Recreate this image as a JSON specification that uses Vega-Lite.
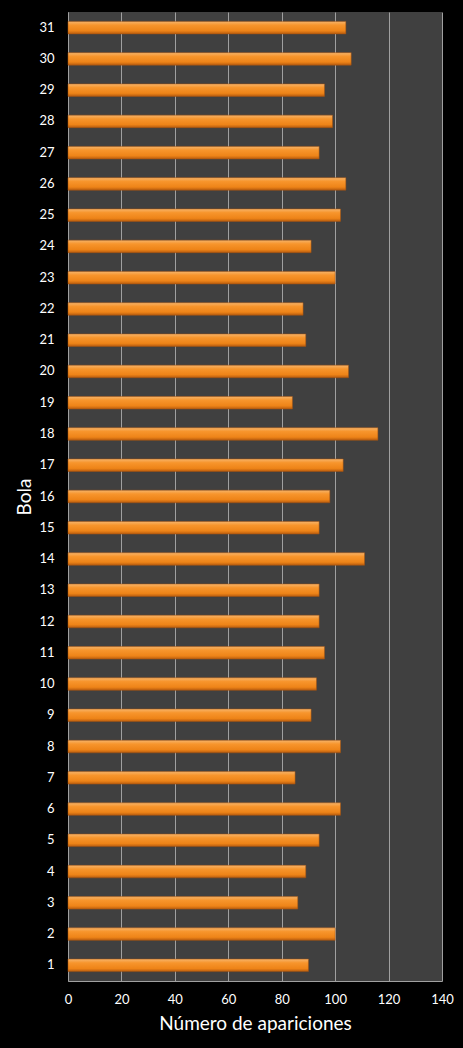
{
  "$schema": "https://vega.github.io/schema/vega-lite/v6.json",
  "autosize": {"type": "none"},
  "padding": {"left": 68, "top": 12, "right": 21, "bottom": 67},
  "width": 374,
  "height": 969,
  "background": "black",
  "data": {
    "values": [
      {"bola": 1, "apariciones": 90},
      {"bola": 2, "apariciones": 100},
      {"bola": 3, "apariciones": 86},
      {"bola": 4, "apariciones": 89},
      {"bola": 5, "apariciones": 94},
      {"bola": 6, "apariciones": 102},
      {"bola": 7, "apariciones": 85},
      {"bola": 8, "apariciones": 102},
      {"bola": 9, "apariciones": 91},
      {"bola": 10, "apariciones": 93},
      {"bola": 11, "apariciones": 96},
      {"bola": 12, "apariciones": 94},
      {"bola": 13, "apariciones": 94},
      {"bola": 14, "apariciones": 111},
      {"bola": 15, "apariciones": 94},
      {"bola": 16, "apariciones": 98},
      {"bola": 17, "apariciones": 103},
      {"bola": 18, "apariciones": 116},
      {"bola": 19, "apariciones": 84},
      {"bola": 20, "apariciones": 105},
      {"bola": 21, "apariciones": 89},
      {"bola": 22, "apariciones": 88},
      {"bola": 23, "apariciones": 100},
      {"bola": 24, "apariciones": 91},
      {"bola": 25, "apariciones": 102},
      {"bola": 26, "apariciones": 104},
      {"bola": 27, "apariciones": 94},
      {"bola": 28, "apariciones": 99},
      {"bola": 29, "apariciones": 96},
      {"bola": 30, "apariciones": 106},
      {"bola": 31, "apariciones": 104}
    ]
  },
  "mark": {
    "type": "bar",
    "color": {
      "gradient": "linear",
      "x1": 0, "y1": 0, "x2": 0, "y2": 1,
      "stops": [
        {"offset": 0, "color": "#f6b46a"},
        {"offset": 0.3, "color": "#f7952c"},
        {"offset": 0.75, "color": "#ee8418"},
        {"offset": 1, "color": "#b85c0e"}
      ]
    },
    "stroke": "#a85510",
    "strokeWidth": 0.5
  },
  "encoding": {
    "y": {
      "field": "bola",
      "type": "ordinal",
      "sort": "descending",
      "title": "Bola",
      "scale": {"paddingInner": 0.6, "paddingOuter": 0.3},
      "axis": {
        "ticks": false,
        "labelPadding": 14,
        "titlePadding": 4,
        "domainColor": "#a0a0a0"
      }
    },
    "x": {
      "field": "apariciones",
      "type": "quantitative",
      "title": "Número de apariciones",
      "scale": {"domain": [0, 140], "nice": false},
      "axis": {
        "values": [0, 20, 40, 60, 80, 100, 120, 140],
        "ticks": false,
        "labelFlush": false,
        "labelPadding": 12,
        "titlePadding": 8,
        "grid": true,
        "gridColor": "#a0a0a0",
        "gridWidth": 1,
        "domainColor": "#a0a0a0"
      }
    }
  },
  "config": {
    "view": {"fill": "#404040", "stroke": null},
    "axis": {
      "labelColor": "white",
      "labelFont": "Lato",
      "labelFontSize": 13,
      "titleColor": "white",
      "titleFont": "Lato",
      "titleFontSize": 19,
      "titleFontWeight": "normal"
    }
  }
}
